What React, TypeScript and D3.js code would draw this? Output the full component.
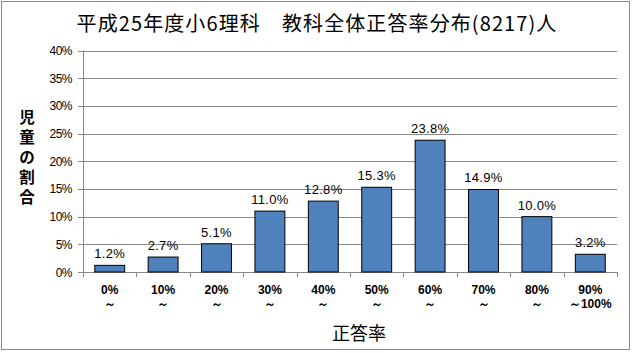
import React from "react";
import * as d3 from "d3";

const categories = ["0%", "10%", "20%", "30%", "40%", "50%", "60%", "70%", "80%", "90%"];
const secondLine = ["～", "～", "～", "～", "～", "～", "～", "～", "～", "～100%"];
const values = [1.2, 2.7, 5.1, 11.0, 12.8, 15.3, 23.8, 14.9, 10.0, 3.2];
const yTicks = [0, 5, 10, 15, 20, 25, 30, 35, 40];
const title = "平成25年度小6理科　教科全体正答率分布(8217)人";
const yTitle = ["児", "童", "の", "割", "合"];
const xTitle = "正答率";

const W = 633;
const H = 353;
const left = 83;
const right = 617;
const top = 50.5;
const bottom = 272;
const jp = "'Noto Sans CJK JP', sans-serif";
const lat = "'Liberation Sans', Arial, sans-serif";

export default function App() {
  const x = d3.scaleBand<string>().domain(categories).range([left, right]).paddingInner(0.44).paddingOuter(0.22);
  const band = d3.scaleBand<string>().domain(categories).range([left, right]);
  const y = d3.scaleLinear().domain([0, 40]).range([bottom, top]);

  return (
    <svg width={W} height={H} style={{ position: "absolute", left: 0, top: 0, display: "block" }}>
      <rect x={0} y={0} width={W} height={H} fill="#fff" />
      <rect x={1.5} y={1.5} width={628} height={348} fill="#fff" stroke="#888" strokeWidth={1} />
      <text x={317} y={31} textAnchor="middle" fontFamily={jp} fontSize={20} letterSpacing={1.1} fill="#000">{title}</text>
      {yTicks.map((t) => (
        <g key={t}>
          <line x1={78} x2={right} y1={Math.round(y(t)) + 0.5} y2={Math.round(y(t)) + 0.5} stroke="#888" />
          <text x={72} y={y(t) + 4.5} textAnchor="end" fontFamily={lat} fontSize={12} letterSpacing={-0.5} fill="#000">{t}%</text>
        </g>
      ))}
      <line x1={left + 0.5} x2={left + 0.5} y1={top} y2={bottom} stroke="#888" />
      {categories.map((c, i) => (
        <line key={"t" + i} x1={Math.round(band(c)! + band.bandwidth()) + 0.5} x2={Math.round(band(c)! + band.bandwidth()) + 0.5} y1={bottom} y2={bottom + 5} stroke="#888" />
      ))}
      <line x1={left + 0.5} x2={left + 0.5} y1={bottom} y2={bottom + 5} stroke="#888" />
      {values.map((v, i) => (
        <g key={"b" + i}>
          <rect x={x(categories[i])!} y={y(v)} width={x.bandwidth()} height={bottom - y(v)} fill="#4F81BD" stroke="#000" strokeWidth={1} />
          <text x={x(categories[i])! + x.bandwidth() / 2} y={y(v) - 7} textAnchor="middle" fontFamily={lat} fontSize={13} letterSpacing={0.3} fill="#000">{v.toFixed(1)}%</text>
        </g>
      ))}
      {categories.map((c, i) => {
        const cx = band(c)! + band.bandwidth() / 2;
        return (
          <g key={"l" + i}>
            <text x={cx} y={294} textAnchor="middle" fontFamily={lat} fontWeight="bold" fontSize={12} fill="#000">{c}</text>
            <text x={cx} y={308} textAnchor="middle" fontFamily={lat} fontWeight="bold" fontSize={12} fill="#000">{secondLine[i]}</text>
          </g>
        );
      })}
      <text x={359} y={340} textAnchor="middle" fontFamily={jp} fontSize={18} fill="#000">{xTitle}</text>
      {yTitle.map((ch, i) => (
        <text key={"y" + i} x={27} y={123 + i * 20} textAnchor="middle" fontFamily={jp} fontWeight="bold" fontSize={15.5} fill="#000">{ch}</text>
      ))}
    </svg>
  );
}
